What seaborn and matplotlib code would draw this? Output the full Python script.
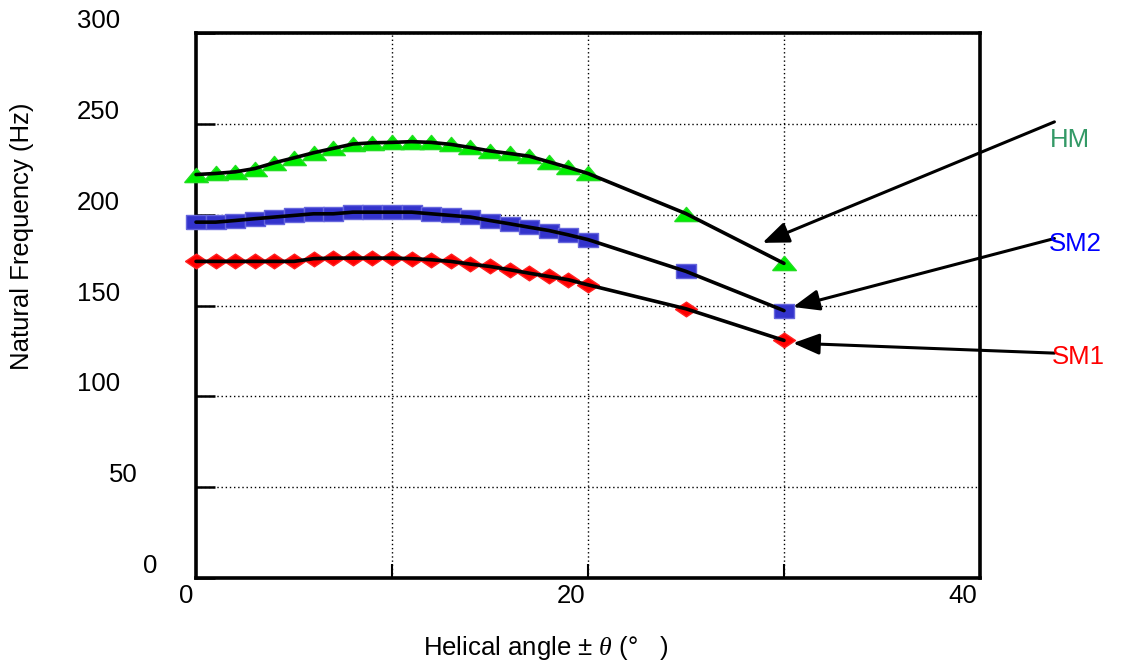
import matplotlib
matplotlib.use("Agg")
import matplotlib.pyplot as plt
import seaborn as sns
import pandas as pd

sns.set_theme(style="white")
plt.rcParams["font.family"] = ["Liberation Sans", "DejaVu Sans"]
plt.rcParams["text.color"] = "black"
plt.rcParams["mathtext.fontset"] = "custom"
plt.rcParams["mathtext.it"] = "Liberation Serif:italic"
plt.rcParams["mathtext.rm"] = "Liberation Sans"

# helical angle (deg)
angle = list(range(0, 21)) + [25, 30]

# natural frequency (Hz) per mode
hm = [222.1, 222.7, 223.6, 225.4, 228.6, 231.3, 234.1, 236.5, 238.9, 239.6, 239.8,
      240.2, 239.8, 238.7, 237.0, 235.1, 233.7, 232.2, 229.1, 226.0, 222.7, 200.6, 173.2]
sm2 = [195.9, 195.9, 196.8, 197.8, 198.7, 199.6, 200.5, 200.5, 201.4, 201.4, 201.4,
       201.4, 200.5, 199.6, 198.7, 196.8, 195.0, 193.1, 191.3, 188.9, 186.3, 168.8, 147.2]
sm1 = [174.3, 174.3, 174.3, 174.3, 174.3, 174.3, 175.8, 176.1, 176.1, 176.1, 176.1,
       175.8, 175.2, 174.3, 172.8, 171.5, 169.7, 167.8, 166.0, 164.2, 161.4, 148.2, 130.8]

modes = ["HM", "SM2", "SM1"]
y_ticks = [0, 50, 100, 150, 200, 250, 300]
x_ticks = [0, 20, 40]

df = pd.DataFrame({
    "angle": angle * 3,
    "freq": hm + sm2 + sm1,
    "mode": [m for m in modes for _ in angle],
})

# flattened marker shapes (the source picture is a bit wide)
tri = [(-1, -0.6), (1, -0.6), (0, 0.6), (-1, -0.6)]
sq = [(-1, -0.75), (1, -0.75), (1, 0.75), (-1, 0.75), (-1, -0.75)]
dia = [(-1, 0), (0, -0.67), (1, 0), (0, 0.67), (-1, 0)]
marker_map = {"HM": tri, "SM2": sq, "SM1": dia}
face = {"HM": "#00ee00", "SM2": "#3333cc", "SM1": "#ff0000"}
edge = {"HM": "#22dd22", "SM2": "#6666dd", "SM1": "#ff2222"}
text_col = {"HM": "#339966", "SM2": "#0000ff", "SM1": "#ff0000"}
size = {"HM": 290, "SM2": 190, "SM1": 250}

FS = 18.5

fig = plt.figure(figsize=(11.35, 6.66), dpi=100)
ax = fig.add_axes([0.1727, 0.1321, 0.6907, 0.8183])

for m in modes:
    sub = df[df["mode"] == m]
    sns.scatterplot(data=sub, x="angle", y="freq", marker=marker_map[m], s=size[m],
                    color=face[m], edgecolor=edge[m], linewidth=1, ax=ax,
                    legend=False, zorder=3, clip_on=False)
    sns.lineplot(data=sub, x="angle", y="freq", color="black", lw=2.6, ax=ax,
                 legend=False, zorder=4, clip_on=False)

ax.set_xlim(0, 40)
ax.set_ylim(0, 300)
ax.set_xticks([10, 20, 30])
ax.set_yticks(y_ticks)
ax.set_xticklabels([])
ax.set_yticklabels([])
ax.set_xlabel("")
ax.set_ylabel("")
ax.tick_params(axis="y", direction="in", length=13.7, width=1.8, color="black", left=True)
ax.tick_params(axis="x", direction="in", length=10, width=1.5, color="black", bottom=True)
ax.grid(True, color="black", linestyle=(0, (1, 2)), linewidth=1.0)
for sp in ax.spines.values():
    sp.set_visible(True)
    sp.set_color("black")
    sp.set_linewidth(2.6)
    sp.set_zorder(2.5)

# quirky offset tick labels from the source
y_dx = {3: -76, 2: -58, 1: -39}
for v in y_ticks:
    lab = str(v)
    ax.annotate(lab, xy=(0, v), xytext=(y_dx[len(lab)], 12), textcoords="offset pixels",
                ha="right", va="center", fontsize=FS, color="black", annotation_clip=False)
for v in x_ticks:
    ax.annotate(str(v), xy=(v, 0), xytext=(-3, -18), textcoords="offset pixels",
                ha="right", va="center", fontsize=FS, color="black", annotation_clip=False)

fig.text(22 / 1135, 1 - 236 / 666, "Natural Frequency (Hz)", rotation=90,
         ha="center", va="center", fontsize=FS)
fig.text(546 / 1135, 1 - 648 / 666, r"Helical angle $\pm$ $\theta$ (°   )",
         ha="center", va="center", fontsize=FS)

# callouts: label position, arrow tail, arrow tip (data units)
label_xy = {"HM": (44.6, 241), "SM2": (44.85, 184), "SM1": (45.0, 121.5)}
tail_xy = {"HM": (43.8, 251.1), "SM2": (43.8, 186.9), "SM1": (43.8, 123.8)}
tip_xy = {"HM": (28.9, 184.5), "SM2": (30.46, 149.2), "SM1": (30.46, 129.3)}
for m in modes:
    ax.annotate("", xy=tip_xy[m], xytext=tail_xy[m], annotation_clip=False,
                arrowprops=dict(arrowstyle="-|>,head_length=0.8,head_width=0.32",
                                mutation_scale=20, color="black", lw=2.2,
                                shrinkA=0, shrinkB=0))
    ax.text(*label_xy[m], m, color=text_col[m], fontsize=FS, ha="center",
            va="center", clip_on=False)

fig.savefig("out.png", dpi=100)
